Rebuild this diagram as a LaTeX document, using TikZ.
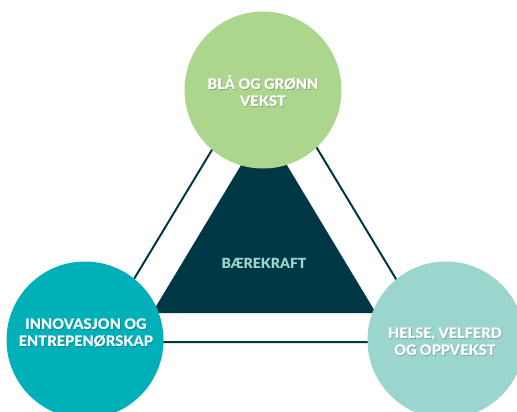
\documentclass[tikz,border=0pt]{standalone}
\usepackage{fontspec}
\setmainfont{Lato}
\newfontfamily\heavy{Lato Black}
\definecolor{cgreen}{HTML}{ACD58E}
\definecolor{cteal}{HTML}{00B0B9}
\definecolor{clight}{HTML}{9AD5CE}
\definecolor{cdark}{HTML}{003745}
\tikzset{
  bubble/.style={circle, inner sep=0pt, minimum size=157pt},
  label/.style={text=white, font=\fontsize{14.5}{17}\selectfont\heavy, align=center, inner sep=0pt},
  shadowlabel/.style={text=black, opacity=0.2, font=\fontsize{14.5}{17}\selectfont\heavy, align=center, inner sep=0pt},
  link/.style={draw=cdark, line width=2pt},
}
\begin{document}
\begin{tikzpicture}[x=1pt,y=-1pt]
\clip (0,0) rectangle (517,412);
\useasboundingbox (0,0) rectangle (517,412);
% outer triangle
\coordinate (oa) at (265,62);
\coordinate (ob) at (96,342);
\coordinate (oc) at (434,342);
\draw[link] (oa) -- (ob) -- (oc) -- cycle;
% inner triangle
\coordinate (ia) at (264,127);
\coordinate (ib) at (152,313);
\coordinate (ic) at (376,313);
\fill[cdark] (ia) -- (ib) -- (ic) -- cycle;
\node[text=clight, font=\fontsize{14}{17}\selectfont\heavy, inner sep=0pt] (core) at (264,263) {BÆREKRAFT};
% circles
\node[bubble, fill=cgreen] (top) at (263,90) {};
\node[bubble, fill=cteal] (left) at (85,340) {};
\node[bubble, fill=clight] (right) at (446,340) {};
% labels
\node[shadowlabel] at (263.8,92.3) {BLÅ OG GRØNN\\VEKST};
\node[label] (toplab) at (263,91.5) {BLÅ OG GRØNN\\VEKST};
\node[shadowlabel] at (86.8,333.8) {INNOVASJON OG\\ENTREPENØRSKAP};
\node[label] (leftlab) at (86,333) {INNOVASJON OG\\ENTREPENØRSKAP};
\node[shadowlabel] at (445.8,342.8) {HELSE, VELFERD\\OG OPPVEKST};
\node[label] (rightlab) at (445,342) {HELSE, VELFERD\\OG OPPVEKST};
\end{tikzpicture}
\end{document}
